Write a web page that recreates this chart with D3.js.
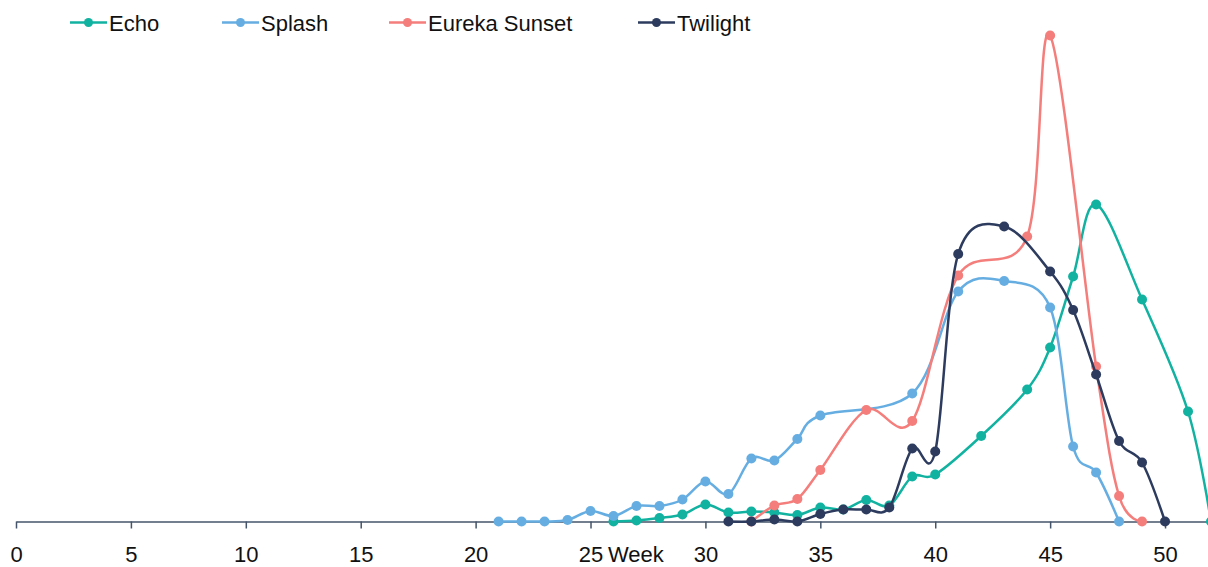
<!DOCTYPE html>
<html>
<head>
<meta charset="utf-8">
<script src="https://cdn.jsdelivr.net/npm/d3@7"></script>
<style>
  html, body { margin: 0; padding: 0; background: #ffffff; }
  svg { display: block; }
  text { font-family: "Liberation Sans", Arial, sans-serif; fill: #111111; }
</style>
</head>
<body>
<svg id="chart" width="1208" height="567"></svg>
<script>
// Weekly series (week number, value)
const echoWeeks      = [26, 27, 28, 29, 30, 31, 32, 33, 34, 35, 36, 37, 38, 39, 40, 42, 44, 45, 46, 47, 49, 51, 52];
const echoValues     = [0, 0.2, 0.7, 1.4, 3.4, 1.8, 2.0, 1.8, 1.3, 2.8, 2.4, 4.3, 3.2, 9.0, 9.4, 17.1, 26.4, 34.8, 49.0, 63.4, 44.4, 22.0, 0];

const splashWeeks    = [21, 22, 23, 24, 25, 26, 27, 28, 29, 30, 31, 32, 33, 34, 35, 39, 41, 43, 45, 46, 47, 48];
const splashValues   = [0, 0, 0, 0.3, 2.1, 1.1, 3.1, 3.1, 4.4, 8.0, 5.5, 12.6, 12.2, 16.5, 21.2, 25.6, 46.0, 48.1, 42.8, 15.0, 9.8, 0];

const eurekaWeeks    = [32, 33, 34, 35, 37, 39, 41, 44, 45, 47, 48, 49];
const eurekaValues   = [0, 3.2, 4.5, 10.3, 22.3, 20.1, 49.2, 57.0, 97.2, 31.0, 5.1, 0];

const twilightWeeks  = [31, 32, 33, 34, 35, 36, 37, 38, 39, 40, 41, 43, 45, 46, 47, 48, 49, 50];
const twilightValues = [0, 0, 0.4, 0, 1.5, 2.4, 2.4, 2.8, 14.6, 14.0, 53.5, 59.0, 50.0, 42.3, 29.4, 16.1, 11.8, 0];

const seriesNames  = ["Echo", "Splash", "Eureka Sunset", "Twilight"];
const seriesColors = ["#12b2a1", "#66aee2", "#f47e7b", "#2d3c5e"];
const tickWeeks    = [0, 5, 10, 15, 20, 25, 30, 35, 40, 45, 50];
const axisTitle    = "Week";

const series = [
  { name: seriesNames[0], color: seriesColors[0], weeks: echoWeeks, values: echoValues },
  { name: seriesNames[1], color: seriesColors[1], weeks: splashWeeks, values: splashValues },
  { name: seriesNames[2], color: seriesColors[2], weeks: eurekaWeeks, values: eurekaValues },
  { name: seriesNames[3], color: seriesColors[3], weeks: twilightWeeks, values: twilightValues }
].map(s => ({ ...s, points: s.weeks.map((w, i) => [w, s.values[i]]) }));

const svg = d3.select("#chart");
const axisColor = "#44546a";
const fontSize = 22;

const x = d3.scaleLinear().domain([0, 52]).range([16, 1211]);
const y = d3.scaleLinear().domain([0, 100]).range([521.5, 21.5]);

// Category axis along the baseline
const axis = d3.axisBottom(x).tickValues(tickWeeks).tickSize(7).tickSizeOuter(0).tickFormat(d3.format("d"));
const gAxis = svg.append("g").attr("transform", `translate(0,${y(0)})`).call(axis);
gAxis.select(".domain").attr("stroke", axisColor).attr("stroke-width", 1.5);
gAxis.selectAll(".tick line").attr("stroke", axisColor).attr("stroke-width", 1.5);
gAxis.selectAll(".tick text")
  .attr("y", 40).attr("dy", 0)
  .style("font-size", fontSize + "px")
  .style("font-family", "'Liberation Sans', Arial, sans-serif")
  .attr("fill", "#111111");

svg.append("text")
  .attr("x", 608).attr("y", y(0) + 40)
  .style("font-size", fontSize + "px")
  .text(axisTitle);

// Smoothed series lines with markers
const line = d3.line()
  .x(d => x(d[0]))
  .y(d => y(d[1]))
  .curve(d3.curveCardinal.tension(0));

const gSeries = svg.append("g");
series.forEach(s => {
  const g = gSeries.append("g");
  g.append("path")
    .attr("d", line(s.points))
    .attr("fill", "none")
    .attr("stroke", s.color)
    .attr("stroke-width", 2.5)
    .attr("stroke-linejoin", "round");
  g.selectAll("circle")
    .data(s.points)
    .join("circle")
    .attr("cx", d => x(d[0]))
    .attr("cy", d => y(d[1]))
    .attr("r", 5)
    .attr("fill", s.color);
});

// Legend
const legendX = [70, 222, 389, 638];
const legend = svg.append("g");
series.forEach((s, i) => {
  const g = legend.append("g").attr("transform", `translate(${legendX[i]},22.5)`);
  g.append("line").attr("x1", 0).attr("x2", 37).attr("y1", 0).attr("y2", 0)
    .attr("stroke", s.color).attr("stroke-width", 2.5);
  g.append("circle").attr("cx", 18.5).attr("cy", 0).attr("r", 4.5).attr("fill", s.color);
  g.append("text")
    .attr("x", 39).attr("y", 8)
    .style("font-size", fontSize + "px")
    .text(s.name);
});
</script>
</body>
</html>
